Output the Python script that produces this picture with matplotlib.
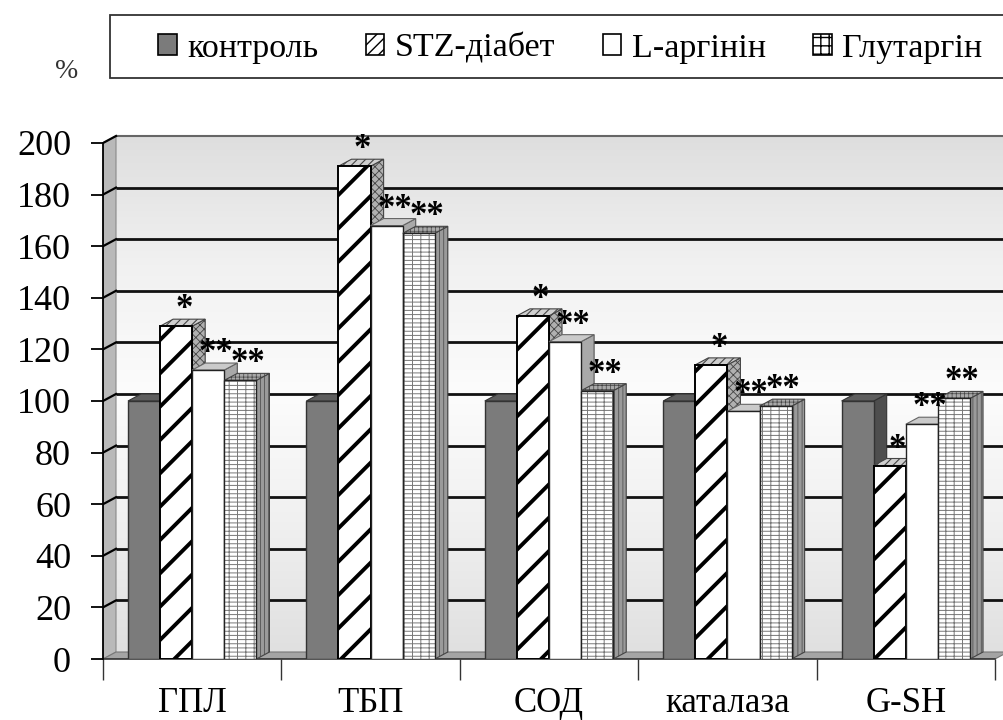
import numpy as np
import matplotlib
matplotlib.use('Agg')
import matplotlib.pyplot as plt
from matplotlib.patches import Polygon, Rectangle, Patch
from matplotlib.colors import LinearSegmentedColormap

# ---------------- data ----------------
categories = ['ГПЛ', 'ТБП', 'СОД', 'каталаза', 'G-SH']
series_names = ['контроль', 'STZ-діабет', 'L-аргінін', 'Глутаргін']
control = [100, 100, 100, 100, 100]
stz = [129, 191, 133, 114, 75]
larg = [112, 168, 123, 96, 91]
glut = [108, 165, 104, 98, 101]
control_marks = ['', '', '', '', '']
stz_marks = ['*', '*', '*', '*', '*']
larg_marks = ['**', '**', '**', '**', '**']
glut_marks = ['**', '**', '**', '**', '**']
y_ticks = [0, 20, 40, 60, 80, 100, 120, 140, 160, 180, 200]
y_label = '%'

SERIF = ['Liberation Serif', 'DejaVu Serif']
plt.rcParams['font.family'] = SERIF

W, H = 1004, 720
fig = plt.figure(figsize=(W / 100, H / 100), dpi=100)

# axes geometry (pixels)
px_left, px_zero, px_per_unit = 103, 659, 2.58
px_per_cat = 178.4
ymax = 207.5
xmin, xmax = -0.5, -0.5 + (W - px_left) / px_per_cat
ax = fig.add_axes([px_left / W, (H - px_zero) / H,
                   (W - px_left) / W, ymax * px_per_unit / H])
ax.set_xlim(xmin, xmax)
ax.set_ylim(0, ymax)

dx = 13 / px_per_cat      # depth offset in x (data units)
off = 7 / px_per_unit      # depth offset in y (data units)
bw = 0.18                  # bar width


def hl(p, lw):
    if hasattr(p, 'set_hatch_linewidth'):
        p.set_hatch_linewidth(lw)
    return p


def poly(pts, z, **kw):
    p = Polygon(pts, closed=True, zorder=z, **kw)
    ax.add_patch(p)
    return p


# back wall gradient
cmap = LinearSegmentedColormap.from_list(
    'wall', [(0.0, '#e0e0e0'), (0.25, '#f0f0f0'), (0.5, '#fcfcfc'),
             (0.75, '#f1f1f1'), (1.0, '#dedede')])
grad = np.linspace(0, 1, 256).reshape(-1, 1)
ax.imshow(grad, cmap=cmap, aspect='auto', origin='lower',
          extent=[xmin + dx, xmax + 0.2, off, 200 + off], zorder=0, interpolation='bilinear')

# left side wall
poly([(xmin, 0), (xmin, 200), (xmin + dx, 200 + off), (xmin + dx, off)], 1,
     facecolor='#b9b9b9', edgecolor='#8a8a8a', lw=0.8)

# floor
poly([(xmin, 0), (4.5, 0), (4.5 + dx, off), (xmin + dx, off)], 1,
     facecolor='#a4a4a4', edgecolor='#777777', lw=0.8)

# gridlines (back wall + side wall)
for v in y_ticks[1:]:
    ax.plot([xmin + dx, xmax + 0.2], [v + off, v + off], color='#111111' if v < 200 else '#666666',
            lw=2.0 if v < 200 else 1.5, zorder=2, solid_capstyle='butt')
    ax.plot([xmin, xmin + dx], [v, v + off], color='black', lw=1.6, zorder=2)

# bar styles
styles = [
    dict(front=dict(facecolor='#7b7b7b', edgecolor='#333333', lw=1.0),
         top=dict(facecolor='#5e5e5e', edgecolor='#333333', lw=0.8),
         side=dict(facecolor='#4e4e4e', edgecolor='#333333', lw=0.8)),
    dict(front=dict(facecolor='white', edgecolor='black', lw=1.4, hatch='/', hlw=2.8),
         top=dict(facecolor='#cfcfcf', edgecolor='#444444', lw=0.8, hatch='////', hlw=0.8),
         side=dict(facecolor='#b0b0b0', edgecolor='#444444', lw=0.8, hatch='xxxx', hlw=0.6)),
    dict(front=dict(facecolor='white', edgecolor='#222222', lw=1.0),
         top=dict(facecolor='#cacaca', edgecolor='#666666', lw=0.8),
         side=dict(facecolor='#a9a9a9', edgecolor='#555555', lw=0.8)),
    dict(front=dict(facecolor='white', edgecolor='#222222', lw=1.0, hatch='++--', hlw=0.7,
                    hcolor='#777777'),
         top=dict(facecolor='#a9a9a9', edgecolor='#444444', lw=0.8, hatch='++++', hlw=0.5),
         side=dict(facecolor='#9a9a9a', edgecolor='#444444', lw=0.8, hatch='||||', hlw=0.5)),
]


def face(pts, z, st):
    st = dict(st)
    hatch = st.pop('hatch', None)
    hlw = st.pop('hlw', 1.0)
    hcolor = st.pop('hcolor', None)
    fc, ec, lw = st['facecolor'], st['edgecolor'], st['lw']
    if hatch and hcolor:
        p = poly(pts, z, facecolor=fc, edgecolor=hcolor, lw=0, hatch=hatch)
        hl(p, hlw)
        poly(pts, z + 0.01, facecolor='none', edgecolor=ec, lw=lw)
    elif hatch:
        p = poly(pts, z, facecolor=fc, edgecolor=ec, lw=lw, hatch=hatch)
        hl(p, hlw)
    else:
        poly(pts, z, facecolor=fc, edgecolor=ec, lw=lw)


all_series = [control, stz, larg, glut]
all_marks = [control_marks, stz_marks, larg_marks, glut_marks]

for i in range(len(categories)):
    for j, vals in enumerate(all_series):
        v = vals[i]
        x0 = i + (j - 2) * bw
        x1 = x0 + bw
        z = 3 + j * 0.1
        st = styles[j]
        face([(x1, 0), (x1, v), (x1 + dx, v + off), (x1 + dx, off)], z, st['side'])
        face([(x0, v), (x1, v), (x1 + dx, v + off), (x0 + dx, v + off)], z + 0.02, st['top'])
        face([(x0, 0), (x1, 0), (x1, v), (x0, v)], z + 0.04, st['front'])
        m = all_marks[j][i]
        if m:
            ax.text((x0 + x1) / 2 + dx * 0.6, v + 3.1, m, ha='center', va='baseline',
                    fontsize=25, fontweight='bold', family=SERIF, color='black', zorder=10)

# axes styling
for s in ['top', 'right']:
    ax.spines[s].set_visible(False)
ax.spines['left'].set_bounds(0, 200)
ax.spines['left'].set_linewidth(1.3)
ax.spines['bottom'].set_bounds(xmin, 4.5)
ax.spines['bottom'].set_linewidth(1.2)
ax.spines['bottom'].set_color('#333333')
ax.spines['left'].set_zorder(5)

ax.set_yticks(y_ticks)
ax.set_yticklabels([str(t) for t in y_ticks])
ax.tick_params(axis='y', direction='out', length=9, width=1.3, pad=14, labelsize=26)

ax.set_xticks(np.arange(-0.5, 4.6, 1.0))
ax.set_xticklabels([])
ax.tick_params(axis='x', which='major', direction='out', length=15, width=1.0, color='#333333')
ax.set_xticks(np.arange(len(categories)), minor=True)
ax.set_xticklabels(categories, minor=True)
ax.tick_params(axis='x', which='minor', length=0, pad=20, labelsize=25)

# "%" label
fig.text(67 / W, 1 - 72 / H, y_label, ha='center', va='center', fontsize=20, family=SERIF,
         color='#333333')

# legend frame
fig.patches.append(Rectangle((110 / W, 1 - 78 / H), (W + 20) / W, 63 / H,
                             transform=fig.transFigure, facecolor='white',
                             edgecolor='#333333', lw=1.3, zorder=0))

handles = []
for j in range(4):
    st = dict(styles[j]['front'])
    hatch = st.get('hatch')
    p = Patch(facecolor=st['facecolor'], edgecolor='black', lw=1.2,
              hatch={'/': '///', '++--': '++'}[hatch] if hatch else None)
    handles.append(p)

leg = fig.legend(handles, series_names, loc='center left', bbox_to_anchor=(158 / W, 1 - 48 / H),
                 ncol=4, frameon=False, handlelength=0.55, handleheight=0.55,
                 handletextpad=0.3, columnspacing=1.4, borderpad=0, borderaxespad=0,
                 prop={'family': SERIF, 'size': 24.5})

fig.savefig('out.png', dpi=100)
